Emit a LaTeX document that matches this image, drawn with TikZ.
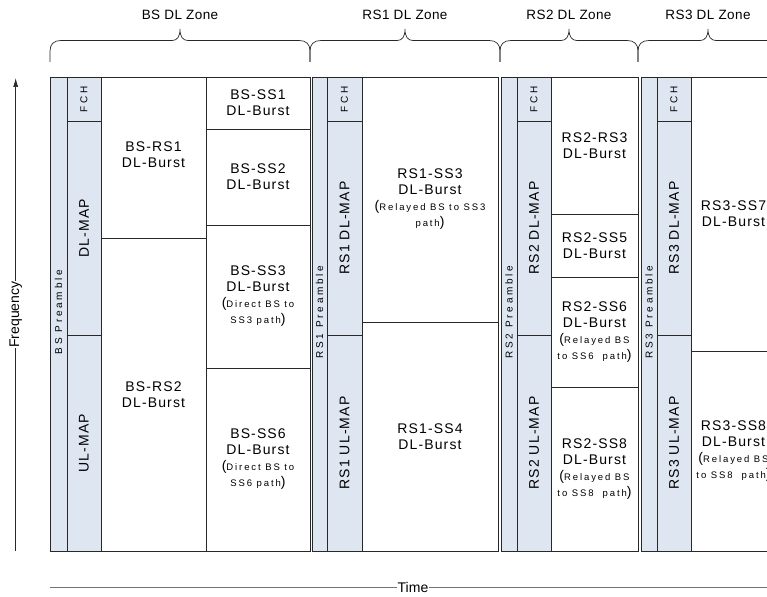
\documentclass[tikz,border=0pt]{standalone}
\usepackage{fontspec}
\setmainfont{Liberation Sans}
\newfontfamily\burstfont[LetterSpace=8]{Liberation Sans}
\newfontfamily\notefont[LetterSpace=20]{Liberation Sans}
\newfontfamily\stripfont[LetterSpace=28]{Liberation Sans}
\newfontfamily\zonefont[LetterSpace=3]{Liberation Sans}
\usepackage{tikz}
\usetikzlibrary{arrows.meta, positioning}
\definecolor{mapblue}{RGB}{222,230,242}
\definecolor{framegray}{RGB}{40,40,40}
\newcommand{\note}[1]{{\notefont\fontsize{9.5}{11}\selectfont #1}}

\tikzset{
  strip/.style={draw=framegray, fill=mapblue, line width=0.8pt},
  cell/.style={draw=framegray, line width=0.8pt},
  zone/.style={draw=framegray, line width=0.9pt},
  burst/.style={font=\burstfont\fontsize{14}{16}\selectfont, align=center},
  maptext/.style={font=\burstfont\fontsize{14}{16}\selectfont, rotate=90},
  striptext/.style={font=\stripfont\fontsize{10}{12}\selectfont, rotate=90},
  zonelabel/.style={font=\zonefont\fontsize{13.5}{15}\selectfont},
  axislabel/.style={font=\fontsize{14}{16}\selectfont, text=black, fill=white, inner sep=0.5pt}
}

\begin{document}
\begin{tikzpicture}[x=1pt, y=-1pt]
    \path[use as bounding box, clip] (0,0) rectangle (767,596);

    % zone braces
    \foreach \a/\m/\b/\name in {50/180/310/BS, 310/405/500/RS1, 500/569/638/RS2, 638/708/778/RS3}{
        \draw[framegray, line width=0.7pt] (\a,62) -- (\a,51) .. controls (\a,44) and (\a+4,40.5) .. (\a+11,40.5)
            -- (\m-8,40.5) .. controls (\m-3,40.5) and (\m,37) .. (\m,29)
            .. controls (\m,37) and (\m+3,40.5) .. (\m+8,40.5)
            -- (\b-11,40.5) .. controls (\b-4,40.5) and (\b,44) .. (\b,51) -- (\b,62);
        \node[zonelabel] (\name-zone) at (\m,15) {\name\ DL Zone};
    }

    % BS DL zone
    \draw[strip] (50,77) rectangle (67,551);
    \node[striptext] (bs-pre) at (58.5,312) {BS Preamble};
    \draw[strip] (67,77) rectangle (101,121);
    \node[striptext] (bs-fch) at (84,99) {FCH};
    \draw[strip] (67,121) rectangle (101,335);
    \node[maptext] (bs-dl) at (84,228) {DL-MAP};
    \draw[strip] (67,335) rectangle (101,551);
    \node[maptext] (bs-ul) at (84,443) {UL-MAP};

    \draw[cell] (101,77) rectangle (206,238);
    \node[burst] (bs-rs1) at (153.5,155) {BS-RS1\\DL-Burst};
    \draw[cell] (101,238) rectangle (206,551);
    \node[burst] (bs-rs2) at (153.5,394.5) {BS-RS2\\DL-Burst};

    \draw[cell] (206,77) rectangle (310,129);
    \node[burst] (bs-ss1) at (258,103) {BS-SS1\\DL-Burst};
    \draw[cell] (206,129) rectangle (310,225);
    \node[burst] (bs-ss2) at (258,177) {BS-SS2\\DL-Burst};
    \draw[cell] (206,225) rectangle (310,368);
    \node[burst] (bs-ss3) at (258,296.5) {BS-SS3\\DL-Burst\\(\note{Direct BS to}\\\note{SS3 path})};
    \draw[cell] (206,368) rectangle (310,551);
    \node[burst] (bs-ss6) at (258,459.5) {BS-SS6\\DL-Burst\\(\note{Direct BS to}\\\note{SS6 path})};
    \draw[zone] (50,77) rectangle (310,551);

    % RS1 DL zone
    \draw[strip] (312,77) rectangle (327,551);
    \node[striptext] (rs1-pre) at (319.5,312) {RS1 Preamble};
    \draw[strip] (327,77) rectangle (362,121);
    \node[striptext] (rs1-fch) at (344.5,99) {FCH};
    \draw[strip] (327,121) rectangle (362,335);
    \node[maptext] (rs1-dl) at (344.5,228) {RS1 DL-MAP};
    \draw[strip] (327,335) rectangle (362,551);
    \node[maptext] (rs1-ul) at (344.5,443) {RS1 UL-MAP};

    \draw[cell] (362,77) rectangle (498,322);
    \node[burst] (rs1-ss3) at (430,199.5) {RS1-SS3\\DL-Burst\\(\note{Relayed BS to SS3}\\\note{path})};
    \draw[cell] (362,322) rectangle (498,551);
    \node[burst] (rs1-ss4) at (430,436.5) {RS1-SS4\\DL-Burst};
    \draw[zone] (312,77) rectangle (498,551);

    % RS2 DL zone
    \draw[strip] (501,77) rectangle (517,551);
    \node[striptext] (rs2-pre) at (509,312) {RS2 Preamble};
    \draw[strip] (517,77) rectangle (551,121);
    \node[striptext] (rs2-fch) at (534,99) {FCH};
    \draw[strip] (517,121) rectangle (551,335);
    \node[maptext] (rs2-dl) at (534,228) {RS2 DL-MAP};
    \draw[strip] (517,335) rectangle (551,551);
    \node[maptext] (rs2-ul) at (534,443) {RS2 UL-MAP};

    \draw[cell] (551,77) rectangle (638,214);
    \node[burst] (rs2-rs3) at (594.5,145.5) {RS2-RS3\\DL-Burst};
    \draw[cell] (551,214) rectangle (638,277);
    \node[burst] (rs2-ss5) at (594.5,245.5) {RS2-SS5\\DL-Burst};
    \draw[cell] (551,277) rectangle (638,387);
    \node[burst] (rs2-ss6) at (594.5,332) {RS2-SS6\\DL-Burst\\(\note{Relayed BS}\\\note{to SS6\ \ path})};
    \draw[cell] (551,387) rectangle (638,551);
    \node[burst] (rs2-ss8) at (594.5,469) {RS2-SS8\\DL-Burst\\(\note{Relayed BS}\\\note{to SS8\ \ path})};
    \draw[zone] (501,77) rectangle (638,551);

    % RS3 DL zone
    \draw[strip] (641,77) rectangle (657,551);
    \node[striptext] (rs3-pre) at (649,312) {RS3 Preamble};
    \draw[strip] (657,77) rectangle (691,121);
    \node[striptext] (rs3-fch) at (674,99) {FCH};
    \draw[strip] (657,121) rectangle (691,335);
    \node[maptext] (rs3-dl) at (674,228) {RS3 DL-MAP};
    \draw[strip] (657,335) rectangle (691,551);
    \node[maptext] (rs3-ul) at (674,443) {RS3 UL-MAP};

    \draw[cell] (691,77) rectangle (776,351);
    \node[burst] (rs3-ss7) at (733.5,214) {RS3-SS7\\DL-Burst};
    \draw[cell] (691,351) rectangle (776,551);
    \node[burst] (rs3-ss8) at (733.5,451) {RS3-SS8\\DL-Burst\\(\note{Relayed BS}\\\note{to SS8\ \ path})};
    \draw[zone] (641,77) rectangle (776,551);

    % axes
    \coordinate (freq-lo) at (15.7,551);
    \coordinate (freq-hi) at (15.7,78);
    \draw[framegray, line width=0.7pt, -{Latex[length=9pt, width=5pt]}] (freq-lo) -- node[axislabel, rotate=90] (freq) {Frequency} (freq-hi);
    \coordinate (time-lo) at (50,587);
    \coordinate (time-hi) at (776,587);
    \draw[black!55, line width=0.8pt] (time-lo) -- node[axislabel] (time) {Time} (time-hi);
\end{tikzpicture}
\end{document}
